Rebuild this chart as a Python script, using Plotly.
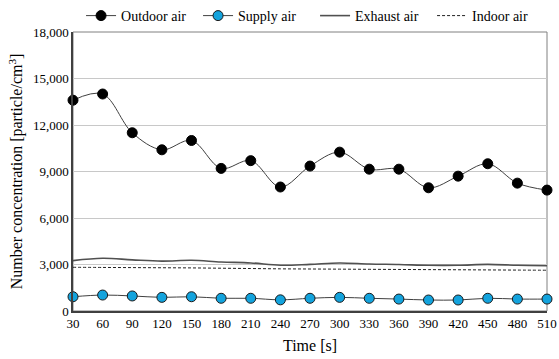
import plotly.graph_objects as go

time_s = [30, 60, 90, 120, 150, 180, 210, 240, 270, 300, 330, 360, 390, 420, 450, 480, 510]
outdoor = [13600, 14000, 11500, 10400, 11000, 9200, 9700, 8000, 9350, 10250, 9150, 9150, 7950, 8700, 9500, 8250, 7800]
supply = [920, 1030, 970, 880, 920, 820, 820, 720, 820, 880, 820, 770, 710, 710, 820, 770, 770]
exhaust = [3250, 3400, 3300, 3220, 3270, 3160, 3100, 2950, 3010, 3100, 3030, 3000, 2950, 2950, 3010, 2950, 2920]
indoor = [2820, 2810, 2800, 2790, 2780, 2760, 2740, 2720, 2710, 2700, 2690, 2680, 2670, 2660, 2650, 2640, 2630]
y_ticks = [0, 3000, 6000, 9000, 12000, 15000, 18000]

FONT = "Liberation Serif"

fig = go.Figure()
fig.add_trace(go.Scatter(x=time_s, y=outdoor, name="Outdoor air", mode="lines+markers",
                         line=dict(color="#404040", width=1, shape="spline"),
                         marker=dict(color="black", size=10, line=dict(color="black", width=1)),
                         cliponaxis=False))
fig.add_trace(go.Scatter(x=time_s, y=supply, name="Supply air", mode="lines+markers",
                         line=dict(color="#404040", width=1, shape="spline"),
                         marker=dict(color="#13A3DD", size=10, line=dict(color="#1a1a1a", width=1)),
                         cliponaxis=False))
fig.add_trace(go.Scatter(x=time_s, y=exhaust, name="Exhaust air", mode="lines",
                         line=dict(color="#505050", width=1.6, shape="spline")))
fig.add_trace(go.Scatter(x=time_s, y=indoor, name="Indoor air", mode="lines",
                         line=dict(color="#202020", width=1, dash="3px,2px", shape="spline")))

fig.add_shape(type="rect", xref="paper", yref="paper", x0=0, y0=0, x1=1, y1=1,
              line=dict(color="#808080", width=1), layer="below")

fig.update_layout(
    width=559, height=359,
    margin=dict(l=73, r=12, t=32, b=48, autoexpand=False),
    paper_bgcolor="white", plot_bgcolor="white",
    font=dict(family=FONT, color="black", size=13),
    showlegend=True,
    legend=dict(orientation="h", xref="container", yref="container",
                x=0.145, y=1.0, xanchor="left", yanchor="top",
                font=dict(family=FONT, size=14), itemwidth=30, tracegroupgap=0,
                entrywidth=72, entrywidthmode="pixels",
                bgcolor="rgba(0,0,0,0)"),
    xaxis=dict(range=[30, 510], tickvals=time_s, ticktext=[str(t) for t in time_s],
               showgrid=False, zeroline=False, showline=True, linecolor="#404040", linewidth=1.5,
               ticks="", automargin=False,
               title=dict(text="Time [s]", font=dict(family=FONT, size=16), standoff=9),
               tickfont=dict(family=FONT, size=13)),
    yaxis=dict(range=[0, 18000], tickvals=y_ticks, tickformat=",",
               showgrid=True, gridcolor="#c8c8c8", gridwidth=1, zeroline=False,
               showline=True, linecolor="#404040", linewidth=1.5, ticks="", automargin=False,
               title=dict(text="Number concentration [particle/cm<sup>3</sup>]",
                          font=dict(family=FONT, size=16), standoff=6),
               tickfont=dict(family=FONT, size=13)),
)

fig.write_html("out.html", config={"displayModeBar": False},
               post_script="document.body.style.margin='0';")
